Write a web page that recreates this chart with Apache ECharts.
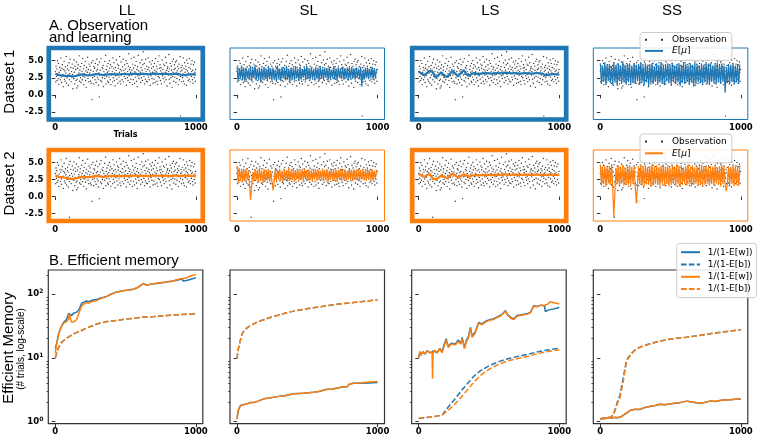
<!DOCTYPE html>
<html><head><meta charset="utf-8">
<script src="https://cdn.jsdelivr.net/npm/echarts@6/dist/echarts.min.js"></script>
<style>html,body{margin:0;padding:0;background:#fff}#c{width:760px;height:439px}</style>
</head><body><div id="c"></div>
<script>
// ---------------- data ----------------
const columns = ['LL', 'SL', 'LS', 'SS'];
const rowLabels = ['Dataset 1', 'Dataset 2'];
const xTicks = [0, 1000];
const yTicksObs = [-2.5, 0, 2.5, 5];
const yTicksLog = [1, 10, 100];
const yMinorLog = [2,3,4,5,6,7,8,9,20,30,40,50,60,70,80,90,200];

// observations (one every 2.5 trials)
const obsStep = 2.5;
const obsBase = [
3.4,1.9,4.2,2.7,3.8,2.1,5.0,3.1,2.4,4.6,1.5,3.3,2.9,4.0,2.2,3.6,5.4,2.6,1.8,3.9,
4.4,2.8,3.0,1.2,3.7,4.9,2.3,3.5,2.0,4.1,3.2,5.6,1.7,2.5,3.8,4.3,2.9,1.4,3.6,4.7,
2.2,3.1,5.2,2.7,4.0,1.9,3.4,2.6,4.5,3.0,0.9,3.9,2.4,5.1,3.3,1.6,4.2,2.8,3.7,2.1,
4.8,1.0,2.3,3.9,1.3,4.4,2.9,3.2,5.7,2.0,3.6,4.1,2.5,1.8,3.0,4.6,3.4,2.2,5.3,2.7,
3.8,1.5,4.3,3.1,2.6,4.9,2.1,3.5,1.1,4.0,2.8,3.3,5.5,2.4,3.7,1.9,4.5,2.9,3.2,4.2,
2.0,3.6,1.7,4.7,-0.7,3.0,2.5,5.0,3.4,1.6,4.1,2.7,3.9,2.2,4.6,3.1,1.8,3.5,5.2,2.6,
3.7,4.4,2.3,1.4,3.2,-0.3,4.8,2.9,3.6,2.1,5.3,3.0,1.9,4.0,2.5,3.8,4.3,1.2,3.4,2.8,
4.9,2.4,3.1,5.8,1.6,3.7,2.7,4.2,3.3,2.0,4.6,1.8,3.5,2.6,5.0,3.9,2.2,4.4,1.5,3.0,
2.9,4.1,3.4,1.9,5.4,2.5,3.8,4.7,2.1,3.2,1.3,4.0,2.8,3.6,5.1,2.3,3.1,4.5,1.7,3.9,
4.3,2.6,3.3,5.6,2.0,3.7,1.6,4.8,2.9,3.5,2.2,4.1,3.0,5.2,1.9,3.6,2.7,4.4,3.2,2.4,
3.8,5.0,1.4,3.1,4.6,2.5,3.4,2.1,4.2,6.0,2.8,3.7,1.8,4.0,3.3,2.3,5.3,2.9,3.6,1.5,
4.5,3.0,2.2,3.9,5.5,1.7,3.4,4.3,2.6,3.2,4.9,2.0,3.7,1.2,4.1,2.8,5.8,3.5,2.4,3.1,
2.9,4.7,3.3,1.8,4.0,2.5,5.1,3.6,2.1,4.4,6.3,3.0,2.7,4.6,1.6,3.8,2.3,5.2,3.4,2.0,
4.2,3.1,1.9,3.7,5.4,2.6,4.0,2.2,3.5,4.8,1.4,3.2,2.8,4.5,3.9,2.4,5.0,3.3,1.7,4.1,
3.0,2.3,4.6,3.6,1.8,5.3,2.9,3.4,4.2,2.0,3.8,1.5,4.9,2.7,3.1,5.7,2.5,3.9,4.4,2.1,
3.5,4.0,1.6,3.2,5.1,2.8,3.7,2.4,4.5,3.0,1.9,4.3,2.6,5.5,3.3,2.2,4.7,3.6,1.3,3.9,
4.1,2.9,3.4,5.9,2.3,3.8,1.7,4.6,3.1,2.5,4.2,3.6,1.1,4.9,2.7,3.3,5.2,2.0,3.7,4.4,
2.6,3.9,4.8,1.8,3.2,5.0,2.4,3.5,4.1,2.9,1.5,3.8,4.5,2.2,3.0,5.6,2.7,3.4,4.0,1.9,
3.6,4.3,2.5,3.1,5.4,2.0,3.9,1.6,4.7,3.3,2.8,4.2,3.7,1.4,5.1,2.6,3.5,4.6,2.1,3.2,
4.0,2.3,5.3,3.0,1.9,3.8,4.5,2.7,3.4,5.0,2.2,3.6,1.7,4.4,3.1,2.5,4.8,3.3,2.0,3.7
];
const obsExtra1 = [[890, -3.1]];
const obsExtra2 = [[100, -3.05]];

// E[mu], slow learners (one every 20 trials)
const muStepSmooth = 20;
const muLL1 = [3.1,2.9,2.85,2.8,2.75,2.8,2.7,2.75,2.85,2.95,3.0,2.9,2.85,2.9,3.0,3.05,2.95,2.9,2.95,3.0,3.05,3.0,2.95,3.0,3.05,3.05,3.0,3.05,3.1,3.05,3.05,3.1,3.05,3.0,3.05,3.1,3.1,3.05,3.05,3.1,3.05,3.0,3.05,3.1,3.05,2.85,2.9,2.95,3.0,3.0,2.95];
const muLL2 = [3.1,2.9,2.85,2.8,2.75,2.6,2.6,2.65,2.75,2.85,2.95,2.85,2.85,2.9,3.0,3.05,2.95,2.9,2.95,3.0,3.05,3.0,2.95,3.0,3.05,3.05,3.0,3.05,3.1,3.05,3.05,3.1,3.05,3.0,3.05,3.1,3.1,3.05,3.05,3.1,3.05,3.0,3.05,3.1,3.05,3.05,3.1,3.05,3.05,3.05,3.0];
const muLS1 = [3.4,3.1,2.9,3.2,3.5,3.3,2.5,2.9,3.3,2.8,2.6,3.0,3.5,3.1,2.7,3.2,3.6,3.0,2.8,3.1,3.2,3.0,3.1,3.15,3.2,3.15,3.1,3.15,3.2,3.15,3.2,3.25,3.2,3.15,3.2,3.15,3.1,3.15,3.2,3.15,3.1,3.15,3.2,3.15,3.1,2.85,2.95,3.0,3.05,3.0,2.95];
const muLS2 = [3.3,3.1,2.9,3.2,3.3,2.6,2.5,2.8,3.1,2.9,2.7,3.0,3.4,3.1,2.8,3.0,3.3,3.1,2.9,3.1,3.2,3.1,3.15,3.15,3.2,3.2,3.15,3.2,3.2,3.2,3.25,3.25,3.2,3.2,3.25,3.2,3.2,3.2,3.25,3.2,3.2,3.2,3.25,3.2,3.2,3.2,3.2,3.25,3.2,3.2,3.2];

// E[mu], fast learners (one every 8 trials; alternating values trace the band)
const muStepNoisy = 8;
const muSL1 = [
4.1,2.0,3.9,2.3,4.3,2.1,3.8,1.9,4.0,2.4,3.7,2.2,4.2,2.0,3.9,2.5,4.4,2.1,3.8,2.3,4.0,1.8,3.9,2.2,4.1,
2.3,3.8,2.0,4.2,2.4,3.9,2.1,4.0,2.2,3.7,1.9,4.3,2.3,3.8,2.0,4.1,2.4,3.9,2.1,4.2,2.2,3.8,2.0,4.0,2.3,
3.9,2.1,4.2,2.4,3.8,2.0,4.1,2.2,3.7,2.5,4.0,2.1,4.3,2.3,3.9,2.2,4.0,2.4,3.8,2.1,4.1,2.3,3.9,2.0,4.2,
2.4,3.8,2.2,4.0,2.5,3.9,2.1,4.1,2.3,3.7,2.4,4.2,2.2,3.9,2.0,4.0,2.5,3.8,2.3,4.1,2.2,3.9,2.4,4.0,2.1,
3.8,2.3,4.1,2.4,3.9,2.2,4.0,2.5,3.8,2.3,4.1,1.2,3.6,2.2,3.9,2.4,4.0,2.3,3.8,2.5,4.1,2.2,3.9,2.4,3.8];
const muSL2 = [
4.5,2.0,4.2,2.3,4.0,2.1,3.9,2.2,4.1,2.4,3.8,2.1,-0.5,1.5,3.6,2.2,4.0,2.4,3.9,2.1,4.2,2.3,3.8,2.0,4.1,
2.2,3.9,2.4,4.0,2.1,3.8,2.3,0.9,2.1,4.0,2.2,3.9,2.5,4.1,2.3,3.8,2.1,4.0,2.4,3.9,2.2,4.2,2.3,3.8,2.4,
4.0,2.2,3.9,2.5,4.1,2.3,3.8,2.4,4.0,2.2,4.1,2.5,3.9,2.3,4.0,2.4,3.8,2.2,4.1,2.5,3.9,2.3,4.0,2.4,3.8,
2.5,4.1,2.3,3.9,2.4,4.0,2.2,3.8,2.5,4.1,2.3,3.9,2.4,4.0,2.2,3.8,2.5,4.1,2.3,3.9,2.4,4.0,2.3,3.8,2.5,
4.1,2.4,3.9,2.3,4.0,2.5,3.8,2.4,4.1,2.3,3.9,2.5,4.0,2.4,3.8,2.3,4.1,2.5,3.9,2.4,4.0,2.3,3.8,2.5,4.0];
const muSS1 = [
4.6,1.6,4.3,1.9,4.8,1.4,4.4,2.0,4.5,1.7,4.2,1.5,4.7,1.8,4.4,1.3,4.6,2.0,4.3,1.6,4.9,1.8,4.4,1.5,4.5,
1.9,4.6,1.4,4.3,1.7,4.7,1.6,4.4,2.0,4.5,1.5,4.8,1.8,4.3,1.4,4.6,1.9,4.4,1.2,4.5,1.7,4.7,1.6,4.2,1.9,
4.6,1.5,4.4,1.8,4.8,1.6,4.3,1.4,4.5,2.0,4.6,1.7,4.4,1.5,4.7,1.9,4.3,1.6,4.5,1.8,4.6,1.3,4.4,1.7,4.8,
1.6,4.5,1.9,4.3,1.5,4.6,1.8,4.4,1.2,4.7,1.6,4.5,1.9,4.3,1.7,4.6,1.5,4.4,1.8,4.8,1.6,4.5,1.4,4.6,1.9,
4.3,1.7,4.5,1.5,4.7,1.8,4.4,1.6,4.6,1.9,4.3,0.3,4.0,1.7,4.5,1.6,4.4,1.9,4.6,1.5,4.3,1.8,4.5,1.6,4.4];
const muSS2 = [
4.7,1.6,4.4,1.8,4.6,1.5,4.3,1.9,4.5,1.7,4.8,1.4,-3.0,0.8,4.2,1.8,4.6,1.5,4.4,1.9,4.7,1.6,4.3,1.8,4.5,
1.7,4.6,1.5,4.4,1.9,4.3,1.6,-1.0,1.3,4.5,1.8,4.7,1.6,4.4,1.5,4.6,1.9,4.3,1.7,4.5,1.4,4.8,1.6,4.4,1.8,
4.6,1.7,4.3,1.5,4.5,1.9,4.7,1.6,4.4,1.8,4.6,1.5,4.3,1.7,4.5,1.9,4.4,1.6,4.8,1.8,4.5,1.4,4.6,1.7,4.3,
1.9,4.5,1.6,4.7,1.8,4.4,1.5,4.6,1.7,4.3,1.9,4.5,1.6,4.4,1.8,4.7,1.5,4.5,1.7,4.6,1.9,4.3,1.6,4.5,1.8,
4.4,1.6,4.6,1.9,4.3,1.7,4.5,1.5,4.7,1.8,4.4,1.6,0.8,1.9,4.5,1.7,4.3,1.8,4.6,1.5,4.4,1.7,4.5,1.6,4.6];

// Efficient memory [trial, value]
const emLLw1 = [[0,14],[10,17],[24,24],[40,30],[59,36],[80,40],[95,50],[105,48],[116,46],[130,50],[152,52],[170,58],[188,72],[205,75],[223,78],[240,76],[260,80],[294,82],[320,86],[365,92],[400,100],[436,108],[480,113],[520,116],[555,119],[590,128],[626,146],[650,138],[697,145],[740,148],[792,155],[840,160],[880,168],[900,172],[910,160],[940,165],[970,172],[999,180]];
const emLLb1 = [[0,10],[12,12.5],[24,14.7],[40,17],[59,18.7],[90,21],[130,23.8],[180,26.5],[223,29.5],[260,31.5],[294,34],[365,37],[436,38.4],[500,40.5],[555,41.7],[626,43.5],[700,44.4],[792,46],[880,47.5],[999,49]];
const emLLw2 = [[0,12],[10,17],[24,24],[40,30],[59,35],[80,37],[95,41],[100,50],[108,40],[116,36],[135,37],[152,40],[170,52],[188,66],[205,70],[223,73],[240,72],[260,76],[294,79],[320,84],[365,91],[400,100],[436,107],[480,113],[520,116],[555,119],[590,128],[626,145],[650,137],[697,145],[740,150],[792,154],[840,162],[880,172],[910,175],[940,182],[970,195],[999,200]];
const emLLb2 = [[0,10],[12,12.5],[24,14.7],[40,17],[59,18.7],[90,21],[130,23.8],[180,26.5],[223,29.5],[260,31.5],[294,34],[365,37],[436,38.4],[500,40.5],[555,41.7],[626,43.5],[700,44.4],[792,46],[880,47.5],[999,49]];

const emSLw1 = [[0,1.1],[4,1.3],[12,1.58],[24,1.78],[40,1.85],[71,1.9],[95,2.0],[118,2.0],[150,2.1],[190,2.28],[230,2.35],[285,2.47],[340,2.55],[403,2.74],[470,2.8],[545,2.9],[590,3.0],[630,3.2],[680,3.25],[750,3.5],[780,3.5],[800,3.9],[830,4.0],[877,4.0],[940,4.05],[999,4.1]];
const emSLb1 = [[0,9.6],[5,12],[12,14.7],[24,19],[36,23.7],[50,26.5],[71,29.5],[95,32],[118,34],[150,37],[190,39.5],[235,43],[285,46],[340,50],[403,54],[470,57.5],[545,61],[630,65],[711,69],[800,72.5],[877,76],[940,78.5],[999,81]];
const emSLw2 = [[0,1.1],[4,1.3],[12,1.58],[24,1.78],[40,1.85],[71,1.9],[95,2.0],[118,2.0],[150,2.1],[190,2.28],[230,2.35],[285,2.47],[340,2.55],[403,2.74],[470,2.8],[545,2.9],[590,3.0],[630,3.2],[680,3.25],[750,3.5],[780,3.5],[800,3.9],[830,4.0],[877,4.05],[940,4.2],[999,4.25]];
const emSLb2 = [[0,9.6],[5,12],[12,14.7],[24,19],[36,23.7],[50,26.5],[71,29.5],[95,32],[118,34],[150,37],[190,39.5],[235,43],[285,46],[340,50],[403,54],[470,57.5],[545,61],[630,65],[711,69],[800,72.5],[877,76],[940,78.5],[999,81]];

const emLSw1 = [[0,10],[8,12.5],[16,11],[30,12.5],[45,11.5],[60,13],[80,12],[95,12.5],[110,13],[130,12],[150,14],[166,12.5],[180,16],[195,20],[210,15],[230,17],[261,16.5],[280,19],[300,17],[309,21],[325,14.5],[340,19],[355,22],[368,30],[380,22],[400,25],[427,36],[450,34],[480,38],[510,40],[534,41],[560,44],[581,46],[600,50],[617,55],[630,48],[660,42],[676,41],[700,46],[740,48],[770,49],[795,52],[818,66],[840,64],[870,67],[895,65],[901,53],[920,56],[950,58],[980,60],[999,62]];
const emLSb1 = [[0,1.12],[80,1.18],[166,1.26],[200,1.6],[249,2.14],[300,3.0],[344,3.9],[390,5.1],[439,6.3],[490,7.3],[534,8.1],[580,8.9],[628,9.6],[700,10.5],[770,11.3],[850,12.5],[920,13.3],[999,14.1]];
const emLSw2 = [[0,10],[8,12.5],[16,11],[30,12.5],[45,11.5],[60,13],[80,12],[95,12.5],[98,4.7],[102,12],[115,13],[130,12],[150,14],[166,12],[180,15],[195,19],[210,14.5],[230,16.5],[261,16],[280,18],[300,16.5],[309,20],[325,14],[340,18],[355,21],[368,29],[380,21],[400,24],[427,35],[450,33],[480,37],[510,39],[534,40],[560,43],[581,45],[600,49],[617,54],[630,47],[660,41],[676,40],[700,45],[740,47],[770,48],[795,51],[818,65],[840,63],[870,67],[895,66],[920,70],[936,76],[960,73],[980,72],[999,70]];
const emLSb2 = [[0,1.12],[80,1.18],[166,1.26],[200,1.45],[249,1.8],[300,2.4],[344,3.1],[390,4.1],[439,5.3],[490,6.4],[534,7.3],[580,8.1],[628,8.9],[700,9.7],[770,10.5],[850,11.7],[920,12.6],[999,13.3]];

const emSSw1 = [[0,1.1],[20,1.15],[40,1.12],[60,1.18],[80,1.13],[100,1.17],[120,1.15],[140,1.17],[160,1.25],[176,1.32],[195,1.4],[211,1.5],[240,1.55],[282,1.55],[310,1.65],[353,1.73],[390,1.8],[424,1.87],[460,1.85],[495,1.9],[530,1.95],[560,1.97],[614,2.1],[640,2.05],[680,1.98],[709,1.95],[740,2.0],[780,2.1],[820,2.08],[851,2.14],[880,2.18],[922,2.2],[960,2.25],[999,2.27]];
const emSSb1 = [[0,1.1],[30,1.12],[71,1.16],[90,1.27],[105,1.55],[120,2.0],[140,2.6],[152,3.6],[164,5.0],[175,6.8],[183,8.4],[195,9.9],[211,11],[235,12.6],[259,13.9],[300,15.3],[353,16.6],[410,18],[472,19.3],[540,20.3],[614,21.1],[700,22.4],[780,23.9],[880,25.6],[999,27.6]];
const emSSw2 = [[0,1.1],[20,1.14],[40,1.13],[60,1.17],[80,1.14],[100,1.16],[120,1.16],[140,1.18],[160,1.24],[176,1.33],[195,1.42],[211,1.5],[240,1.56],[282,1.56],[310,1.66],[353,1.74],[390,1.79],[424,1.88],[460,1.86],[495,1.9],[530,1.96],[560,1.98],[614,2.1],[640,2.06],[680,1.99],[709,1.96],[740,2.0],[780,2.1],[820,2.09],[851,2.15],[880,2.18],[922,2.21],[960,2.25],[999,2.28]];
const emSSb2 = [[0,1.1],[30,1.12],[71,1.16],[90,1.25],[105,1.5],[120,1.9],[140,2.4],[152,3.2],[164,4.4],[175,6.2],[183,8],[195,9.6],[211,10.8],[235,12.5],[259,13.8],[300,15.2],[353,16.5],[410,17.9],[472,19.2],[540,20.2],[614,21],[700,22.3],[780,23.8],[880,25.5],[999,27.5]];

// ---------------- layout & style ----------------
const BLUE = '#1f77b4', ORANGE = '#ff7f0e';
const colLeft = [48.3, 230, 411.7, 593.3], colW = 154.5;
const rowTop = [48, 150, 270], rowH = [71.5, 71, 153.7];
const thickCols = [0, 2];
const X_MIN = -50, X_MAX = 1049;
const OBS_MIN = -3.6, OBS_MAX = 6.85;
const LOG_MIN = 0.93, LOG_MAX = 238;
const DASH = [5.5, 2.4];
const tickFont = {fontFamily: 'DejaVu Sans', fontSize: 8.5, fontWeight: 'bold', color: '#000'};

const obsPts1 = obsBase.map((v, i) => [i * obsStep, v]).concat(obsExtra1);
const obsPts2 = obsBase.map((v, i) => [i * obsStep, v]).concat(obsExtra2);
const smooth = arr => arr.map((v, i) => [i * muStepSmooth, v]);
const noisy = arr => arr.map((v, i) => [i * muStepNoisy, v]);
const muData = [
  [smooth(muLL1), noisy(muSL1), smooth(muLS1), noisy(muSS1)],
  [smooth(muLL2), noisy(muSL2), smooth(muLS2), noisy(muSS2)]
];
const emData = [
  [emLLw1, emLLb1, emLLw2, emLLb2],
  [emSLw1, emSLb1, emSLw2, emSLb2],
  [emLSw1, emLSb1, emLSw2, emLSb2],
  [emSSw1, emSSb1, emSSw2, emSSb2]
];

const grids = [], xAxes = [], yAxes = [], series = [], graphics = [];
const rowColor = [BLUE, ORANGE];

for (let r = 0; r < 3; r++) {
  for (let c = 0; c < 4; c++) {
    const gi = grids.length;
    const thick = r < 2 && thickCols.includes(c);
    const bc = r < 2 ? rowColor[r] : '#333';
    grids.push({left: colLeft[c], top: rowTop[r], width: colW, height: rowH[r],
      show: !thick, borderColor: bc, borderWidth: r < 2 ? 1 : 1.2, backgroundColor: 'transparent'});
    if (thick) {
      graphics.push({type: 'rect', z: 10, silent: true,
        shape: {x: colLeft[c] + 0.5, y: rowTop[r], width: colW - 0.5, height: rowH[r]},
        style: {fill: 'none', stroke: bc, lineWidth: 4.7}});
    }
    xAxes.push({gridIndex: gi, type: 'value', min: X_MIN, max: X_MAX,
      axisLine: {show: false}, splitLine: {show: false},
      axisTick: {show: true, length: 3.5, customValues: xTicks, lineStyle: {color: '#000', width: 0.8}},
      axisLabel: Object.assign({customValues: xTicks, margin: 4, formatter: v => String(v)}, tickFont)});
    if (r < 2) {
      const yi = yAxes.length;
      yAxes.push({gridIndex: gi, type: 'value', min: OBS_MIN, max: OBS_MAX,
        axisLine: {show: false}, splitLine: {show: false},
        axisTick: {show: true, length: 3.5, customValues: yTicksObs, lineStyle: {color: '#000', width: 0.8}},
        axisLabel: Object.assign({show: c === 0, customValues: yTicksObs, margin: 5, formatter: v => v.toFixed(1)}, tickFont)});
      series.push({type: 'scatter', name: 'obs' + (r + 1), xAxisIndex: gi, yAxisIndex: yi,
        data: r === 0 ? obsPts1 : obsPts2, symbol: 'circle', symbolSize: 1.4, z: 2, silent: true,
        itemStyle: {color: '#000'}});
      const fast = c === 1 || c === 3;
      series.push({type: 'line', name: 'mu' + (r + 1), xAxisIndex: gi, yAxisIndex: yi,
        data: muData[r][c], symbol: 'none', z: 3, silent: true,
        lineStyle: {color: rowColor[r], width: fast ? 1.2 : 2.2},
        itemStyle: {color: rowColor[r]}});
    } else {
      const yi = yAxes.length;
      yAxes.push({gridIndex: gi, type: 'log', logBase: 10, min: LOG_MIN, max: LOG_MAX, position: 'left',
        axisLine: {show: false}, splitLine: {show: false},
        axisTick: {show: true, length: 3.5, customValues: yTicksLog, lineStyle: {color: '#000', width: 0.8}},
        axisLabel: Object.assign({show: c === 0, customValues: yTicksLog, margin: 5,
          formatter: v => '10{s|' + Math.round(Math.log10(v)) + '}',
          rich: {s: {fontFamily: 'DejaVu Sans', fontSize: 6, fontWeight: 'bold', color: '#000', padding: [0, 0, 5, 0]}}}, tickFont)});
      yAxes.push({gridIndex: gi, type: 'log', logBase: 10, min: LOG_MIN, max: LOG_MAX, position: 'left',
        axisLine: {show: false}, splitLine: {show: false}, axisLabel: {show: false},
        axisTick: {show: true, length: 2, customValues: yMinorLog, lineStyle: {color: '#000', width: 0.6}}});
      const names = ['w1', 'b1', 'w2', 'b2'];
      const cols = [BLUE, BLUE, ORANGE, ORANGE];
      emData[c].forEach((d, k) => {
        series.push({type: 'line', name: names[k], xAxisIndex: gi, yAxisIndex: yi, data: d,
          symbol: 'none', silent: true, z: 2 + k * 0.1,
          lineStyle: {color: cols[k], width: 1.5, type: k % 2 ? DASH : 'solid'},
          itemStyle: {color: cols[k]}});
      });
    }
  }
}

// texts
const titleFont = 'Liberation Sans';
columns.forEach((t, c) => graphics.push({type: 'text', x: colLeft[c] + colW / 2 + 1.5, y: 11, silent: true,
  style: {text: t, fontFamily: titleFont, fontSize: 15, fill: '#000', align: 'center', verticalAlign: 'middle'}}));
graphics.push({type: 'text', x: 49, y: 26, silent: true, style: {text: 'A. Observation', fontFamily: titleFont, fontSize: 15, fill: '#000', align: 'left', verticalAlign: 'middle'}});
graphics.push({type: 'text', x: 49, y: 37.5, silent: true, style: {text: 'and learning', fontFamily: titleFont, fontSize: 15, fill: '#000', align: 'left', verticalAlign: 'middle'}});
graphics.push({type: 'text', x: 49, y: 261, silent: true, style: {text: 'B. Efficient memory', fontFamily: titleFont, fontSize: 15, fill: '#000', align: 'left', verticalAlign: 'middle'}});
rowLabels.forEach((t, r) => graphics.push({type: 'text', x: 10, y: rowTop[r] + rowH[r] / 2 - 2, rotation: Math.PI / 2, silent: true,
  style: {text: t, fontFamily: titleFont, fontSize: 15, fill: '#000', align: 'center', verticalAlign: 'middle'}}));
graphics.push({type: 'text', x: 9, y: 348, rotation: Math.PI / 2, silent: true, style: {text: 'Efficient Memory', fontFamily: titleFont, fontSize: 15, fill: '#000', align: 'center', verticalAlign: 'middle'}});
graphics.push({type: 'text', x: 21, y: 349, rotation: Math.PI / 2, silent: true, style: {text: '(# trials, log-scale)', fontFamily: titleFont, fontSize: 10, fill: '#000', align: 'center', verticalAlign: 'middle'}});
graphics.push({type: 'text', x: 125.5, y: 135, silent: true, style: {text: 'Trials', fontFamily: 'DejaVu Sans', fontSize: 8, fontWeight: 'bold', fill: '#000', align: 'center', verticalAlign: 'middle'}});

const legendLabels = {obs1: 'Observation', obs2: 'Observation', mu1: '{i|E}[{i|μ}]', mu2: '{i|E}[{i|μ}]',
  w1: '1/(1-E[w])', b1: '1/(1-E[b])', w2: '1/(1-E[w])', b2: '1/(1-E[b])'};
const dotsIcon = 'path://M0,0h2v2h-2zM16,0h2v2h-2z';
const noSym = {opacity: 0};
const legendBase = {orient: 'vertical', selectedMode: false, backgroundColor: 'rgba(255,255,255,0.85)',
  borderColor: '#ccc', borderWidth: 1, borderRadius: 3, formatter: n => legendLabels[n],
  textStyle: {fontFamily: 'DejaVu Sans', fontSize: 9, color: '#000', padding: [0, 0, 0, 4],
    rich: {i: {fontFamily: 'DejaVu Sans', fontSize: 9, fontStyle: 'italic', color: '#000'}}}};
const legends = [
  Object.assign({}, legendBase, {data: [{name: 'obs1', icon: dotsIcon}, {name: 'mu1', itemStyle: noSym}], left: 640, top: 32.5,
    itemWidth: 18, itemHeight: 10, itemGap: 2.2, padding: [2.7, 5, 5, 4]}),
  Object.assign({}, legendBase, {data: [{name: 'obs2', icon: dotsIcon}, {name: 'mu2', itemStyle: noSym}], left: 640, top: 134,
    itemWidth: 18, itemHeight: 10, itemGap: 2.8, padding: [3, 5, 5, 4]}),
  Object.assign({}, legendBase, {data: ['w1', 'b1', 'w2', 'b2'].map(n => ({name: n, itemStyle: noSym})), left: 676.7, top: 243.3,
    itemWidth: 19, itemHeight: 10, itemGap: 3.3, padding: [4.4, 4, 4, 3.3],
    textStyle: Object.assign({}, legendBase.textStyle, {padding: [0, 0, 0, 2.7]})})
];

const chart = echarts.init(document.getElementById('c'), null, {renderer: 'canvas'});
chart.setOption({animation: false, grid: grids, xAxis: xAxes, yAxis: yAxes, series: series,
  legend: legends, graphic: graphics});
</script></body></html>
